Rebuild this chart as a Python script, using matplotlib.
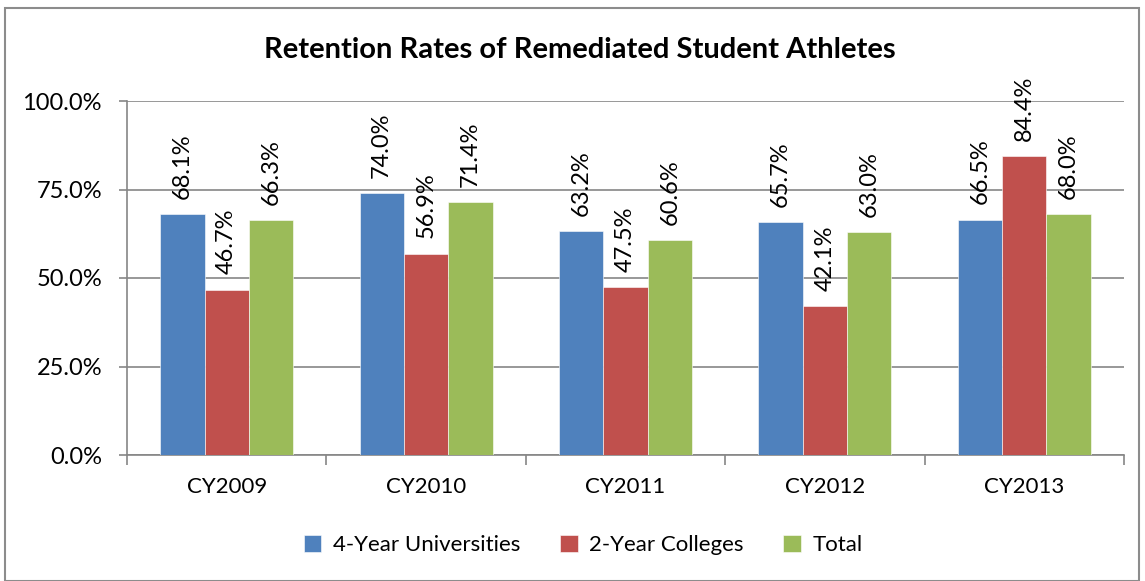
import numpy as np
import matplotlib.pyplot as plt
from matplotlib.patches import Rectangle

years = ['CY2009', 'CY2010', 'CY2011', 'CY2012', 'CY2013']
series_names = ['4-Year Universities', '2-Year Colleges', 'Total']
univ = [68.1, 74.0, 63.2, 65.7, 66.5]
college = [46.7, 56.9, 47.5, 42.1, 84.4]
total = [66.3, 71.4, 60.6, 63.0, 68.0]
colors = ['#4f81bd', '#c0504d', '#9bbb59']

plt.rcParams['font.family'] = ['Lato', 'DejaVu Sans']

fig = plt.figure(figsize=(11.45, 5.81), dpi=100)
fig.patches.append(Rectangle((5 / 1145, 0), 1134 / 1145, 1 - 8 / 581,
                             transform=fig.transFigure, fill=False,
                             edgecolor='#8c8c8c', linewidth=1.5))
ax = fig.add_axes([127 / 1145, 1 - 455 / 581, 997 / 1145, 354 / 581])

x = np.arange(len(years))
w = 0.2225
for i, (vals, name) in enumerate(zip([univ, college, total], series_names)):
    pos = x + (i - 1) * w
    ax.bar(pos, vals, width=w, color=colors[i], label=name,
           edgecolor='white', linewidth=0.4, zorder=3)
    for p, v in zip(pos, vals):
        ax.annotate(f'{v:.1f}%', (p, v), xytext=(0, 11), textcoords='offset points',
                    rotation=90, ha='center', va='bottom', fontsize=17)

ax.set_xlim(-0.5, len(years) - 0.5)
ax.set_ylim(0, 100)
ax.set_yticks([0, 25, 50, 75, 100])
ax.set_yticklabels([f'{t:.1f}%' for t in [0, 25, 50, 75, 100]], fontsize=17)
ax.yaxis.grid(True, color='#868686', linewidth=1.2, zorder=0)
ax.tick_params(axis='y', length=6, color='#868686', width=1.2, pad=12)
ax.set_xticks(x)
ax.set_xticklabels(years, fontsize=16)
ax.set_xticks(np.arange(len(years) + 1) - 0.5, minor=True)
ax.tick_params(axis='x', which='major', length=0, pad=16)
ax.tick_params(axis='x', which='minor', length=7, color='#868686', width=1.2)
for s in ['top', 'right']:
    ax.spines[s].set_visible(False)
for s in ['left', 'bottom']:
    ax.spines[s].set_color('#868686')
    ax.spines[s].set_linewidth(1.2)

fig.text(580 / 1145, 1 - 50 / 581, 'Retention Rates of Remediated Student Athletes',
         ha='center', va='center', fontsize=21, fontweight='bold')
fig.legend(loc='center', bbox_to_anchor=(583 / 1145, 1 - 545 / 581), ncol=3,
           frameon=False, fontsize=16, handlelength=0.8, handleheight=0.8,
           handletextpad=0.5, columnspacing=1.8)

fig.savefig('out.png', dpi=100)
